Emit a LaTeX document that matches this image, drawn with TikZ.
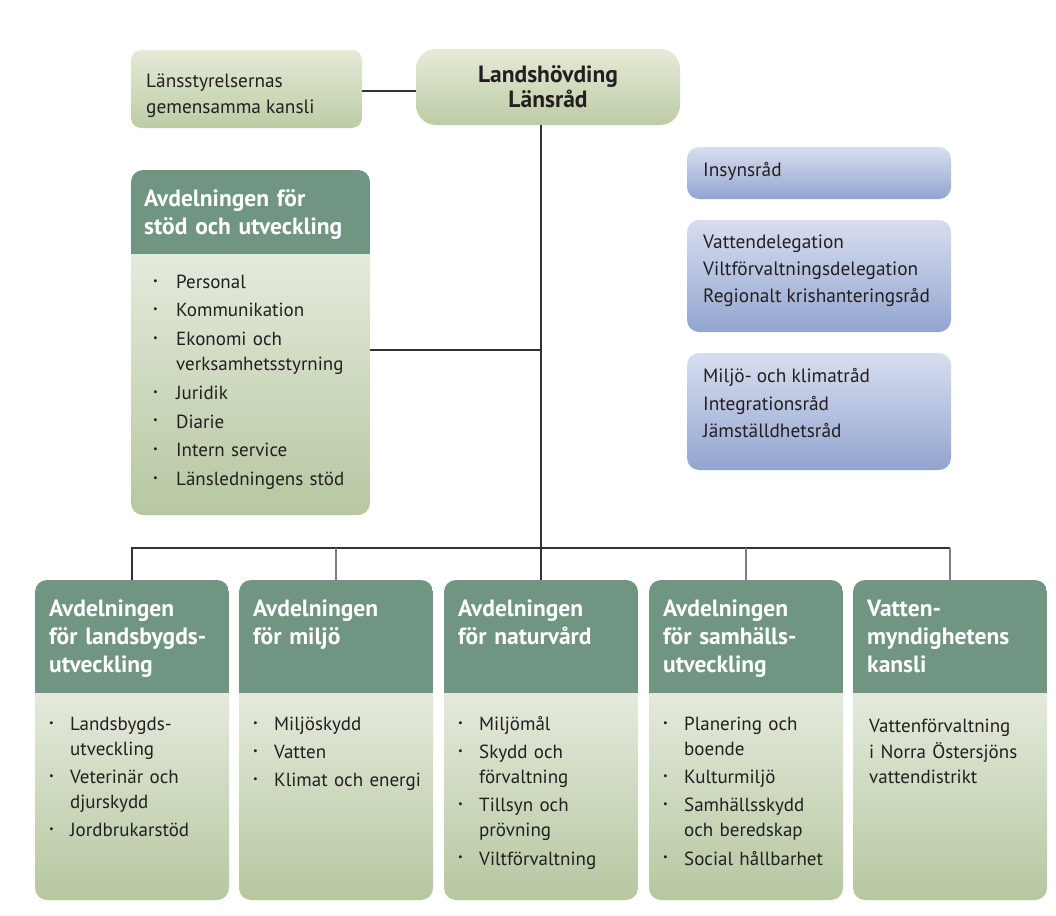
\documentclass[tikz,border=0pt]{standalone}
\usepackage{fontspec}
\usepackage{graphicx}
\setmainfont{PT Sans}
\hyphenpenalty=10000
\exhyphenpenalty=10000
\definecolor{hdrgreen}{RGB}{113,149,131}
\definecolor{bodytop}{RGB}{228,234,220}
\definecolor{bodybot}{RGB}{182,199,160}
\definecolor{toptop}{RGB}{230,234,216}
\definecolor{topbot}{RGB}{188,204,164}
\definecolor{bluetop}{RGB}{216,222,239}
\definecolor{bluebot}{RGB}{146,165,208}
\definecolor{ink}{RGB}{35,31,32}
\definecolor{wire}{RGB}{50,50,50}
\definecolor{wirelight}{RGB}{125,125,125}
\newlength\mylistind
\newlength\mylistbul
\newcommand\smallbullet{\raisebox{0.22em}{\scalebox{0.55}{\textbullet}}}
\newcommand\bl[1]{\noindent\hangindent=\mylistind\hangafter=1\makebox[\mylistind][l]{\hspace{\mylistbul}\smallbullet}\strut#1\par}
\newcommand\listsetup[3]{\setlength\mylistbul{#1}\setlength\mylistind{#2}\setlength\parskip{#3}}
\newcommand\deptbox[6]{%
  \node[frame, minimum width=#4, minimum height=#6-#3, anchor=north west] (#1) at (#2,#3) {};
  \begin{scope}
    \clip[rounded corners=12pt] (#1.north west) rectangle (#1.south east);
    \shade[top color=bodytop, bottom color=bodybot] (#2,#5) rectangle (#1.south east);
    \fill[hdrgreen] (#1.north west) rectangle (#2+#4,#5);
  \end{scope}}
\tikzset{
  frame/.style={draw=none, inner sep=0pt, outer sep=0pt},
  wireline/.style={draw=wire, line width=1.3pt},
  wirelite/.style={draw=wirelight, line width=1.2pt},
  topbox/.style={shade, top color=toptop, bottom color=topbot, inner sep=0pt, outer sep=0pt, anchor=north west},
  bluebox/.style={shade, top color=bluetop, bottom color=bluebot, rounded corners=12pt, inner sep=0pt, outer sep=0pt, anchor=north west},
  hdrtext/.style={anchor=north west, inner sep=0pt, align=left, text width=230pt, font=\bfseries\fontsize{23.5}{28}\selectfont, text=white},
  bodytext/.style={anchor=north west, inner sep=0pt, align=left, text width=#1, font=\fontsize{19}{25}\selectfont, text=ink},
  plaintext/.style={anchor=north west, inner sep=0pt, align=left, font=\fontsize{19.3}{27}\selectfont, text=ink}
}
\begin{document}
\begin{tikzpicture}[x=1pt,y=-1pt]
\useasboundingbox (0,0) rectangle (1056,915);

% top row
\node[topbox, rounded corners=10pt, minimum width=231pt, minimum height=78pt] (A) at (131,50) {};
\node[topbox, rounded corners=20pt, minimum width=264pt, minimum height=76pt] (B) at (416,49) {};
\node[plaintext, font=\fontsize{19.3}{26}\selectfont] (tA) at (146,68.8) {\strut Länsstyrelsernas\\gemensamma kansli};
\node[anchor=north, inner sep=0pt, align=center, font=\bfseries\fontsize{23.5}{25}\selectfont, text=ink] (tB) at (548,64.5) {\strut Landshövding\\Länsråd};

% blue boxes
\node[bluebox, minimum width=264pt, minimum height=52pt] (D1) at (687,147) {};
\node[bluebox, minimum width=264pt, minimum height=112pt] (D2) at (687,220) {};
\node[bluebox, minimum width=264pt, minimum height=117pt] (D3) at (687,353) {};
\node[plaintext] (t1) at (703,157) {\strut Insynsråd};
\node[plaintext] (t2) at (703,229) {\strut Vattendelegation\\Viltförvaltningsdelegation\\Regionalt krishanteringsråd};
\node[plaintext, font=\fontsize{19.3}{27.5}\selectfont] (t3) at (703,363.5) {\strut Miljö- och klimatråd\\Integrationsråd\\Jämställdhetsråd};

% stöd och utveckling
\deptbox{C}{131}{170}{239}{254}{515}
\node[hdrtext] (hC) at (144,187) {\strut Avdelningen för\\stöd och utveckling};
\node[bodytext=220pt] (lC) at (141,270.5) {\listsetup{12pt}{35pt}{3.7pt}%
  \bl{Personal}\bl{Kommunikation}\bl{Ekonomi och\newline verksamhetsstyrning}\bl{Juridik}\bl{Diarie}\bl{Intern service}\bl{Länsledningens stöd}};

% bottom departments
\deptbox{b1}{35}{580}{194}{693}{900}
\deptbox{b2}{239}{580}{194}{693}{900}
\deptbox{b3}{444}{580}{194}{693}{900}
\deptbox{b4}{649}{580}{194}{693}{900}
\deptbox{b5}{853}{580}{194}{693}{900}

\node[hdrtext] (h1) at (49,596.5) {\strut Avdelningen\\för landsbygds-\\utveckling};
\node[hdrtext] (h2) at (253,596.5) {\strut Avdelningen\\för miljö};
\node[hdrtext] (h3) at (458,596.5) {\strut Avdelningen\\för naturvård};
\node[hdrtext] (h4) at (663,596.5) {\strut Avdelningen\\för samhälls-\\utveckling};
\node[hdrtext] (h5) at (867,596.5) {\strut Vatten-\\myndighetens\\kansli};

\node[bodytext=185pt] (l1) at (45,712.5) {\listsetup{4pt}{25pt}{3.3pt}%
  \bl{Landsbygds-\newline utveckling}\bl{Veterinär och\newline djurskydd}\bl{Jordbrukarstöd}};
\node[bodytext=185pt] (l2) at (249,712.5) {\listsetup{4pt}{25pt}{3.3pt}%
  \bl{Miljöskydd}\bl{Vatten}\bl{Klimat och energi}};
\node[bodytext=185pt] (l3) at (454,712.5) {\listsetup{4pt}{25pt}{3.3pt}%
  \bl{Miljömål}\bl{Skydd och\newline förvaltning}\bl{Tillsyn och\newline prövning}\bl{Viltförvaltning}};
\node[bodytext=185pt] (l4) at (659,712.5) {\listsetup{4pt}{25pt}{3.3pt}%
  \bl{Planering och\newline boende}\bl{Kulturmiljö}\bl{Samhällsskydd\newline och beredskap}\bl{Social hållbarhet}};
\node[bodytext=185pt, font=\fontsize{19}{25.5}\selectfont] (l5) at (869,714.5) {\strut Vattenförvaltning\\i Norra Östersjöns\\vattendistrikt};

% connectors
\coordinate (bus) at (541,548);
\coordinate (cj) at (541,350);
\coordinate (aj) at (390,91);
\draw[wireline] (A.east |- aj) -- (B.west |- aj);
\draw[wireline] (bus |- B.south) -- (bus);
\draw[wireline] (C.east |- cj) -- (cj);
\draw[wireline] (b1.north) -- (b1.north |- bus) -- (b5.north |- bus);
\draw[wireline] (b3.north) -- (b3.north |- bus);
\draw[wirelite] (b2.north) -- (b2.north |- bus);
\draw[wirelite] (b4.north) -- (b4.north |- bus);
\draw[wirelite] (b5.north) -- (b5.north |- bus);
\end{tikzpicture}
\end{document}
